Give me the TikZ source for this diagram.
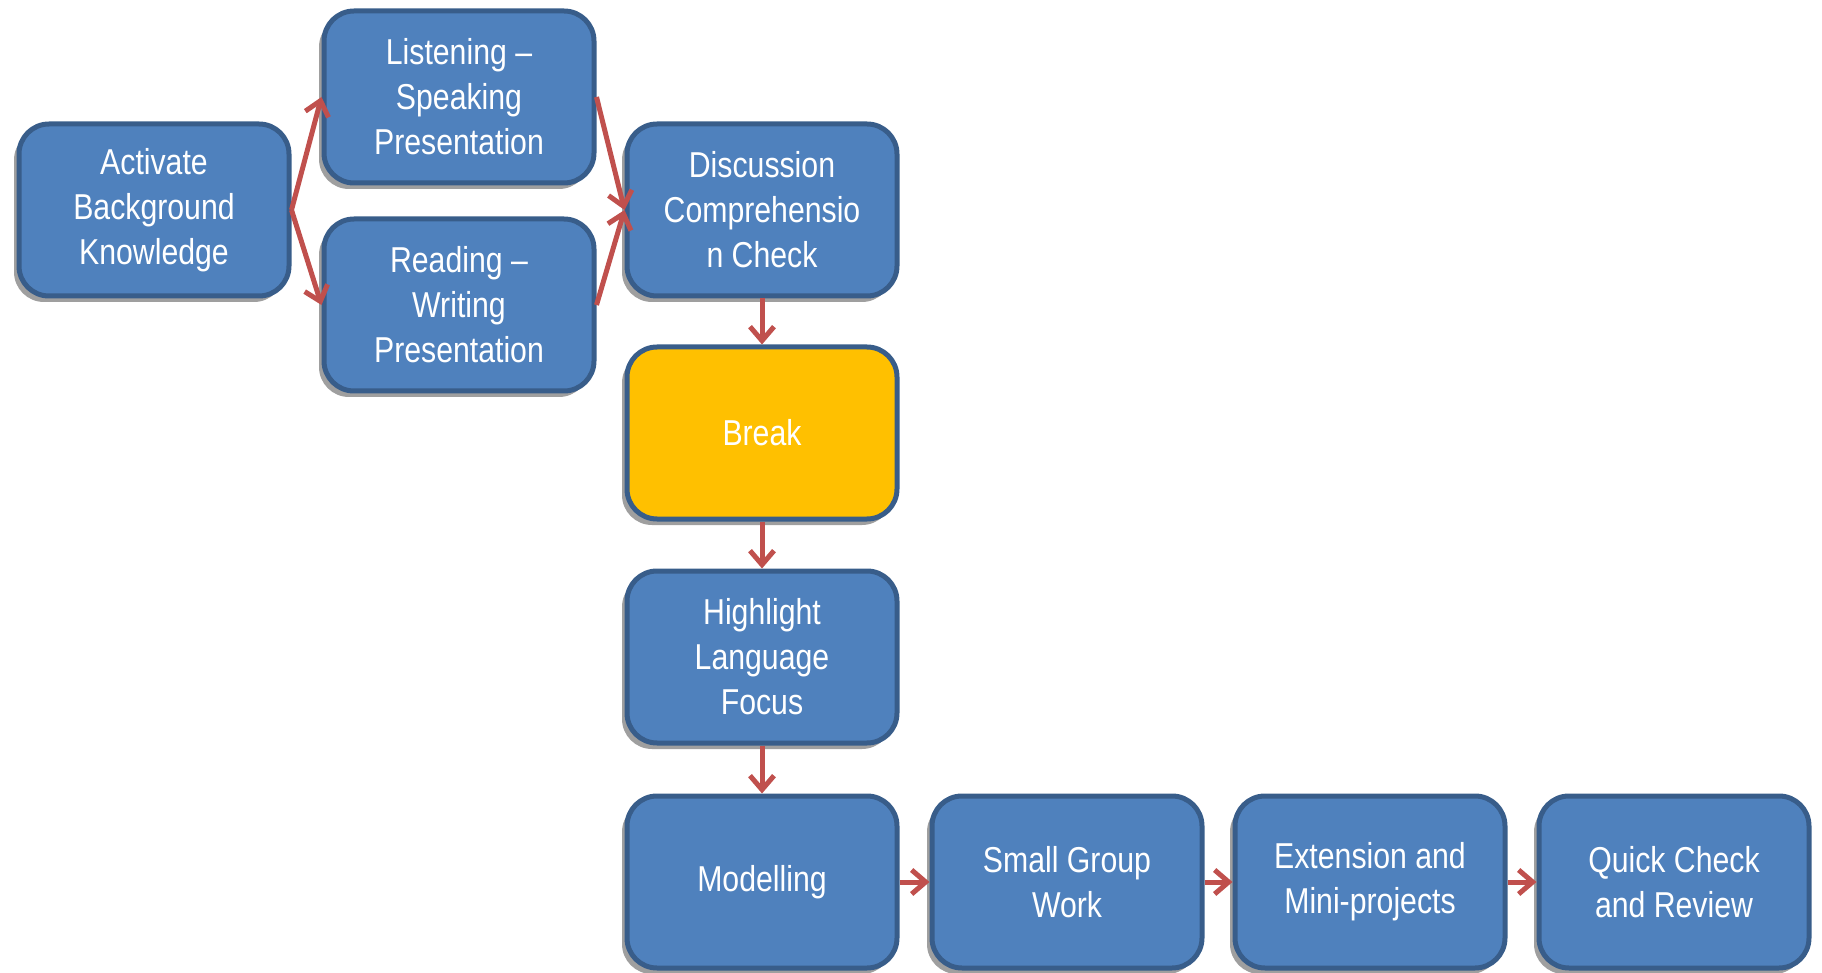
\documentclass[tikz,border=0pt]{standalone}
\usepackage{fontspec}
\setmainfont{Liberation Sans}[FakeStretch=0.84]
\usetikzlibrary{arrows.meta,shadows}
\definecolor{boxblue}{HTML}{4F81BD}
\definecolor{boxline}{HTML}{385D8A}
\definecolor{breakgold}{HTML}{FFC000}
\definecolor{arrowred}{HTML}{C0504D}

\begin{document}
\begin{tikzpicture}[x=0.5pt,y=-0.5pt,
  stagebox/.style={draw=boxline,line width=2.5pt,fill=boxblue,rounded corners=15pt,
    minimum width=135pt,minimum height=86pt,inner sep=0pt,align=center,text=white,
    font=\fontsize{18}{22.5}\selectfont,
    drop shadow={shadow xshift=-2.5pt,shadow yshift=-3pt,fill=gray!75,opacity=1}},
  flow/.style={-{Straight Barb[length=7pt,width=12pt]},line width=2.5pt,draw=arrowred}]
\useasboundingbox (0,0) rectangle (1822,973);
\node[stagebox] (activate) at (154,210) {Activate\\Background\\Knowledge};
\node[stagebox] (listen) at (459,97) {Listening –\\Speaking\\Presentation};
\node[stagebox] (read) at (459,305) {Reading –\\Writing\\Presentation};
\node[stagebox] (discuss) at (762,210) {Discussion\\Comprehensio\\n Check};
\node[stagebox,fill=breakgold] (break) at (762,433) {Break};
\node[stagebox] (highlight) at (762,657) {Highlight\\Language\\Focus};
\node[stagebox] (model) at (762,882) {Modelling};
\node[stagebox] (group) at (1067,882) {Small Group\\Work};
\node[stagebox] (extend) at (1370,882) {Extension and\\Mini-projects};
\node[stagebox] (review) at (1674,882) {Quick Check\\and Review};
\draw[flow] (activate.east) -- (listen.west);
\draw[flow] (activate.east) -- (read.west);
\draw[flow] (listen.east) -- (discuss.west);
\draw[flow] (read.east) -- (discuss.west);
\draw[flow] (discuss.south) -- (break.north);
\draw[flow] (break.south) -- (highlight.north);
\draw[flow] (highlight.south) -- (model.north);
\draw[flow] (model.east) -- (group.west);
\draw[flow] (group.east) -- (extend.west);
\draw[flow] (extend.east) -- (review.west);
\end{tikzpicture}
\end{document}
